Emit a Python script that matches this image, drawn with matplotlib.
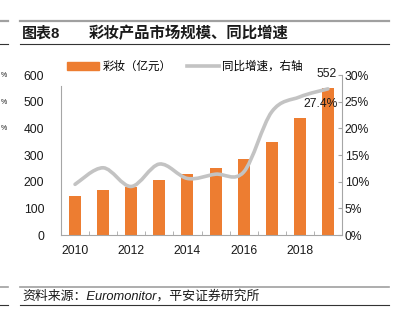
import numpy as np
import matplotlib
matplotlib.use("Agg")
import matplotlib.pyplot as plt
from matplotlib.path import Path
from matplotlib.patches import PathPatch
from matplotlib.lines import Line2D
import matplotlib.ticker as mticker

plt.rcParams["font.family"] = ["Liberation Sans", "Noto Sans CJK SC", "DejaVu Sans"]

# data
years = [2010, 2011, 2012, 2013, 2014, 2015, 2016, 2017, 2018, 2019]
sales = [147, 167, 181, 207, 230, 253, 286, 347, 437, 552]          # 亿元
growth = [0.095, 0.126, 0.091, 0.133, 0.106, 0.114, 0.118, 0.231, 0.259, 0.274]

ORANGE = "#ED7D31"
LGRAY = "#C3C3C3"
AXGRAY = "#A6A6A6"
TXT = "#1a1a1a"

W, H = 393, 325
fig = plt.figure(figsize=(W / 100, H / 100), dpi=100)


def fx(px):
    return px / W


def fy(py):
    return 1 - py / H


def smooth_path(xs, ys):
    """Excel-style smoothed line: Catmull-Rom segments as cubic Beziers."""
    pts = np.column_stack([xs, ys]).astype(float)
    ext = np.vstack([pts[0], pts, pts[-1]])
    verts = [pts[0]]
    codes = [Path.MOVETO]
    for i in range(len(pts) - 1):
        p0, p1, p2, p3 = ext[i], ext[i + 1], ext[i + 2], ext[i + 3]
        verts += [p1 + (p2 - p0) / 6, p2 - (p3 - p1) / 6, p2]
        codes += [Path.CURVE4] * 3
    return Path(verts, codes)


# header / footer rules (including the cut-off bits of the neighbouring column)
for x0, x1 in [(0, 8), (20, 389)]:
    fig.add_artist(Line2D([fx(x0), fx(x1)], [fy(20.5), fy(20.5)], color="#A0A0A0", lw=1.6))
    fig.add_artist(Line2D([fx(x0), fx(x1)], [fy(43.8), fy(43.8)], color="#333333", lw=0.8))
    fig.add_artist(Line2D([fx(x0), fx(x1)], [fy(286.5), fy(286.5)], color="#A0A0A0", lw=1.2))
    fig.add_artist(Line2D([fx(x0), fx(x1)], [fy(305), fy(305)], color="#333333", lw=0.8))
for py in (75, 103, 128):
    fig.text(fx(0.5), fy(py), "%", ha="left", va="center", fontsize=5, color=TXT)

fig.text(fx(22), fy(33), "图表8", fontsize=10.8, fontweight="bold",
         ha="left", va="center", color=TXT)
fig.text(fx(89), fy(33), "彩妆产品市场规模、同比增速", fontsize=11.1, fontweight="bold",
         ha="left", va="center", color=TXT)
fig.text(fx(22), fy(296), "资料来源：Euromonitor，平安证券研究所", fontsize=9.3,
         style="italic", ha="left", va="center", color=TXT)

ax = fig.add_axes([fx(61), fy(235), fx(342) - fx(61), fy(75) - fy(235)])
x = np.arange(len(years))
ax.bar(x, sales, width=0.43, color=ORANGE, label="彩妆（亿元）", zorder=2)
ax.set_xlim(-0.5, len(years) - 0.5)
ax.set_ylim(0, 600)
ax.yaxis.set_major_locator(mticker.MultipleLocator(100))
ax.set_xticks(x)
ax.set_xticklabels([str(y) if y % 2 == 0 else "" for y in years])
ax.set_xticks(np.arange(-0.5, len(years), 1.0), minor=True)
ax.tick_params(axis="x", which="major", length=0, pad=7, labelsize=8.7, labelcolor=TXT)
ax.tick_params(axis="x", which="minor", length=3, direction="in", color=AXGRAY)
ax.tick_params(axis="y", length=0, pad=12, labelsize=8.7, labelcolor=TXT)
ax.spines["top"].set_visible(False)
ax.spines["right"].set_visible(False)
ax.spines["left"].set_color(AXGRAY)
ax.spines["left"].set_bounds(0, 560)
ax.spines["bottom"].set_color(AXGRAY)
ax.text(x[-1] - 0.05, 603, f"{sales[-1]}", ha="center", va="center", fontsize=8.7, color=TXT)

ax2 = ax.twinx()
ax2.set_ylim(0, 0.30)
ax2.yaxis.set_major_locator(mticker.MultipleLocator(0.05))
ax2.yaxis.set_major_formatter(mticker.FuncFormatter(lambda v, _: f"{v * 100:.0f}%"))
ax2.tick_params(axis="y", length=3, direction="in", color=AXGRAY, pad=2,
                labelsize=8.7, labelcolor=TXT)
for s in ("top", "left", "bottom"):
    ax2.spines[s].set_visible(False)
ax2.spines["right"].set_color(AXGRAY)
ax2.add_patch(PathPatch(smooth_path(x, growth), facecolor="none", edgecolor=LGRAY,
                        lw=2.6, capstyle="round", zorder=3))
ax2.text(x[-1] - 0.25, growth[-1] - 0.028, f"{growth[-1] * 100:.1f}%", ha="center",
         va="center", fontsize=8.7, color=TXT)

handles = [plt.Rectangle((0, 0), 1, 1, color=ORANGE),
           Line2D([0], [0], color=LGRAY, lw=2.6)]
fig.legend(handles, ["彩妆（亿元）", "同比增速，右轴"], loc="center left",
           bbox_to_anchor=(fx(67), fy(67)), ncol=2, frameon=False, fontsize=8.3,
           handlelength=2.8, handletextpad=0.3, columnspacing=1.3,
           borderpad=0, borderaxespad=0)

fig.savefig("out.png", dpi=100)
